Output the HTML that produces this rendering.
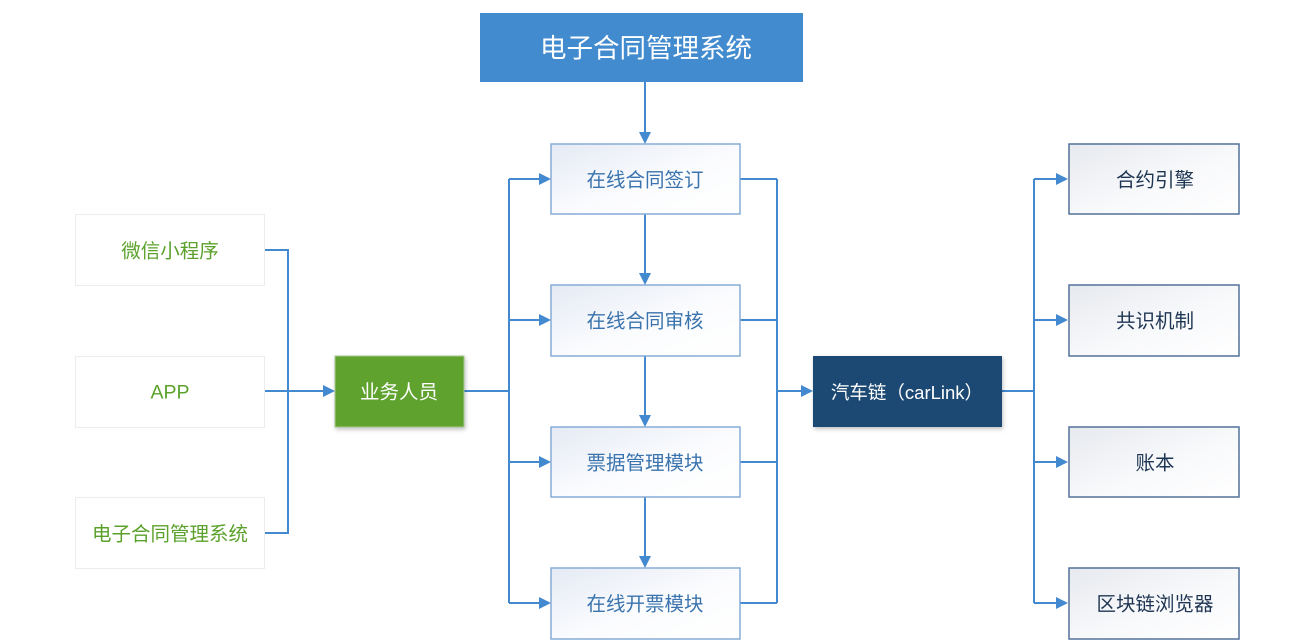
<!DOCTYPE html>
<html>
<head>
<meta charset="utf-8">
<style>
html,body{margin:0;padding:0;background:#fff;}
svg{display:block;}
text{font-family:"Liberation Sans","Noto Sans CJK SC","Microsoft YaHei",sans-serif;dominant-baseline:central;text-anchor:middle;}
</style>
</head>
<body>
<svg width="1313" height="644" viewBox="0 0 1313 644" xmlns="http://www.w3.org/2000/svg">
<defs>
<linearGradient id="gm" x1="0" y1="0" x2="1" y2="1">
<stop offset="0" stop-color="#e4eaf4"/>
<stop offset="0.55" stop-color="#fbfcfe"/>
<stop offset="1" stop-color="#ffffff"/>
</linearGradient>
<linearGradient id="gr" x1="0" y1="0" x2="1" y2="1">
<stop offset="0" stop-color="#e6e9ee"/>
<stop offset="0.55" stop-color="#f8f9fb"/>
<stop offset="1" stop-color="#ffffff"/>
</linearGradient>
<filter id="sh" x="-10%" y="-10%" width="125%" height="130%">
<feDropShadow dx="1" dy="2" stdDeviation="2" flood-color="#000" flood-opacity="0.25"/>
</filter>
</defs>

<!-- connectors -->
<g stroke="#4389cf" stroke-width="2" fill="none">
<polyline points="264,250 288,250 288,533 264,533"/>
<line x1="264" y1="391" x2="325" y2="391"/>
<line x1="464" y1="391" x2="509" y2="391"/>
<line x1="509" y1="179" x2="509" y2="603"/>
<line x1="509" y1="179" x2="541" y2="179"/>
<line x1="509" y1="320" x2="541" y2="320"/>
<line x1="509" y1="462" x2="541" y2="462"/>
<line x1="509" y1="603" x2="541" y2="603"/>
<line x1="645" y1="82" x2="645" y2="134"/>
<line x1="645" y1="214" x2="645" y2="275"/>
<line x1="645" y1="356" x2="645" y2="417"/>
<line x1="645" y1="497" x2="645" y2="558"/>
<line x1="740" y1="179" x2="777" y2="179"/>
<line x1="740" y1="320" x2="777" y2="320"/>
<line x1="740" y1="462" x2="777" y2="462"/>
<line x1="740" y1="603" x2="777" y2="603"/>
<line x1="777" y1="179" x2="777" y2="603"/>
<line x1="777" y1="391" x2="803" y2="391"/>
<line x1="1002" y1="391" x2="1034" y2="391"/>
<line x1="1034" y1="179" x2="1034" y2="603"/>
<line x1="1034" y1="179" x2="1058" y2="179"/>
<line x1="1034" y1="320" x2="1058" y2="320"/>
<line x1="1034" y1="462" x2="1058" y2="462"/>
<line x1="1034" y1="603" x2="1058" y2="603"/>
</g>
<g fill="#4389cf">
<polygon points="335,391 323,385 323,397"/>
<polygon points="551,179 539,173 539,185"/>
<polygon points="551,320 539,314 539,326"/>
<polygon points="551,462 539,456 539,468"/>
<polygon points="551,603 539,597 539,609"/>
<polygon points="645,144 639,132 651,132"/>
<polygon points="645,285 639,273 651,273"/>
<polygon points="645,427 639,415 651,415"/>
<polygon points="645,568 639,556 651,556"/>
<polygon points="813,391 801,385 801,397"/>
<polygon points="1068,179 1056,173 1056,185"/>
<polygon points="1068,320 1056,314 1056,326"/>
<polygon points="1068,462 1056,456 1056,468"/>
<polygon points="1068,603 1056,597 1056,609"/>
</g>

<!-- top box -->
<rect x="480" y="13" width="323" height="69" fill="#428bcf"/>
<text x="646" y="47" dy="1.5" font-size="26.5" fill="#ffffff">电子合同管理系统</text>

<!-- left boxes -->
<g fill="#ffffff" stroke="#ececec" stroke-width="1">
<rect x="75.5" y="214.5" width="189" height="71"/>
<rect x="75.5" y="356.5" width="189" height="71"/>
<rect x="75.5" y="497.5" width="189" height="71"/>
</g>
<g font-size="19.5" fill="#5ba12b">
<text x="170" y="250" dy="1.5">微信小程序</text>
<text x="170" y="391" dy="1.5">APP</text>
<text x="170" y="533" dy="1.5">电子合同管理系统</text>
</g>

<!-- business -->
<rect x="335" y="356" width="129" height="71" fill="#5ea22e" stroke="#a8c995" stroke-width="1" filter="url(#sh)"/>
<text x="399" y="391" dy="1.5" font-size="19.5" fill="#ffffff">业务人员</text>

<!-- module boxes -->
<g fill="url(#gm)" stroke="#87acd6" stroke-width="1.5">
<rect x="551" y="144" width="189" height="70"/>
<rect x="551" y="285" width="189" height="71"/>
<rect x="551" y="427" width="189" height="70"/>
<rect x="551" y="568" width="189" height="71"/>
</g>
<g font-size="19.5" fill="#3a73ad">
<text x="645" y="179" dy="1.5">在线合同签订</text>
<text x="645" y="320" dy="1.5">在线合同审核</text>
<text x="645" y="462" dy="1.5">票据管理模块</text>
<text x="645" y="603" dy="1.5">在线开票模块</text>
</g>

<!-- carlink -->
<rect x="813" y="356" width="189" height="71" fill="#1b4a73" filter="url(#sh)"/>
<text x="907" y="391" dy="1.5" font-size="18.5" fill="#ffffff">汽车链（carLink）</text>

<!-- right boxes -->
<g fill="url(#gr)" stroke="#52729a" stroke-width="1.5">
<rect x="1069" y="144" width="170" height="70"/>
<rect x="1069" y="285" width="170" height="71"/>
<rect x="1069" y="427" width="170" height="70"/>
<rect x="1069" y="568" width="170" height="71"/>
</g>
<g font-size="19.5" fill="#1e3553">
<text x="1155" y="179" dy="1.5">合约引擎</text>
<text x="1155" y="320" dy="1.5">共识机制</text>
<text x="1155" y="462" dy="1.5">账本</text>
<text x="1155" y="603" dy="1.5">区块链浏览器</text>
</g>
</svg>
</body>
</html>
